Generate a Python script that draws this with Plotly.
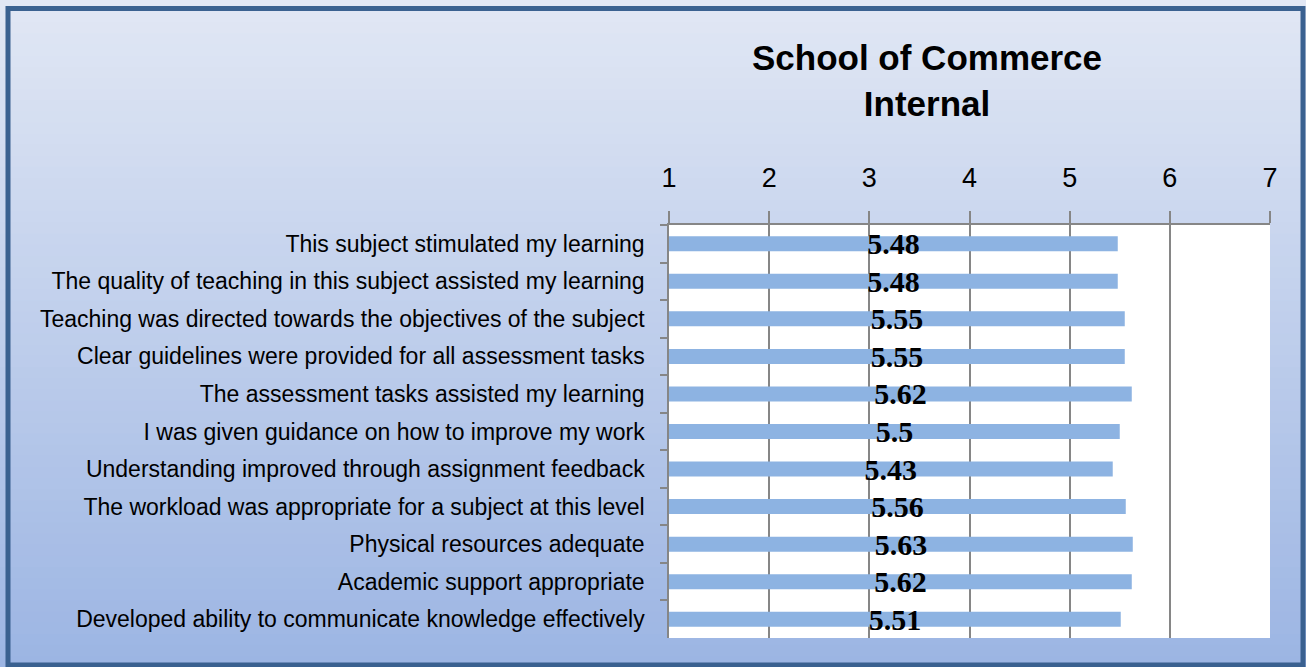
import plotly.graph_objects as go

statements = [
    "This subject stimulated my learning",
    "The quality of teaching in this subject assisted my learning",
    "Teaching was directed towards the objectives of the subject",
    "Clear guidelines were provided for all assessment tasks",
    "The assessment tasks assisted my learning",
    "I was given guidance on how to improve my work",
    "Understanding improved through assignment feedback",
    "The workload was appropriate for a subject at this level",
    "Physical resources adequate",
    "Academic support appropriate",
    "Developed ability to communicate knowledge effectively",
]
scores = [5.48, 5.48, 5.55, 5.55, 5.62, 5.5, 5.43, 5.56, 5.63, 5.62, 5.51]
scale_ticks = [1, 2, 3, 4, 5, 6, 7]

W, H = 1306, 667
L, R, T, B = 669, 36, 225, 29
PW, PH = W - L - R, H - T - B
SCALE_MIN = 1


def px_x(p):
    # figure pixel -> paper coordinate
    return (p - L) / PW


def px_y(p):
    return (H - B - p) / PH


fig = go.Figure(
    go.Bar(
        y=statements,
        x=[s - SCALE_MIN for s in scores],
        base=SCALE_MIN,
        orientation="h",
        marker=dict(color="#8db3e2", line=dict(width=0)),
        text=[f"{s:g}" for s in scores],
        textposition="inside",
        insidetextanchor="middle",
        constraintext="none",
        textfont=dict(family="Liberation Serif, Times New Roman, serif", size=30, color="black", weight="bold"),
        hoverinfo="skip",
    )
)

# vertical gradient background, drawn as thin strips over the whole figure
shapes = []
top_c, bot_c = (225, 231, 244), (156, 181, 227)
n = 60
for i in range(n):
    t = i / (n - 1)
    c = tuple(round(a + (b - a) * t) for a, b in zip(top_c, bot_c))
    shapes.append(dict(
        type="rect", xref="paper", yref="paper", layer="below",
        x0=px_x(0), x1=px_x(W), y0=px_y(H * (i + 1) / n + 1), y1=px_y(H * i / n),
        fillcolor="rgb(%d,%d,%d)" % c, line=dict(width=0),
    ))
# white plot area
shapes.append(dict(type="rect", xref="x domain", yref="y domain", layer="below",
                   x0=0, x1=1, y0=0, y1=1, fillcolor="white", line=dict(width=0)))
# outer frame
shapes.append(dict(type="rect", xref="paper", yref="paper", layer="above",
                   x0=px_x(8), x1=px_x(1303), y0=px_y(665), y1=px_y(8.5),
                   fillcolor="rgba(0,0,0,0)", line=dict(color="#3a6190", width=5)))

fig.update_layout(
    width=W, height=H,
    margin=dict(l=L, r=R, t=T, b=B, pad=0),
    paper_bgcolor="#dce4f2",
    plot_bgcolor="white",
    shapes=shapes,
    bargap=0.6,
    showlegend=False,
    title=dict(
        text="School of Commerce<br>Internal",
        x=927 / W, xanchor="center", y=1 - 70 / H, yanchor="middle",
        font=dict(family="Liberation Sans, Arial", size=35, color="black", weight="bold"),
    ),
    xaxis=dict(
        side="top", range=[1, 7], tickvals=scale_ticks,
        showgrid=True, gridcolor="#868686", gridwidth=1.5,
        showline=True, linecolor="#868686", linewidth=1.5,
        ticks="outside", ticklen=12, tickcolor="#868686", tickwidth=1.5,
        tickfont=dict(family="Liberation Sans, Arial", size=27, color="black"),
        ticklabelstandoff=13,
        zeroline=False, fixedrange=True,
    ),
    yaxis=dict(
        autorange="reversed", showgrid=False,
        showline=True, linecolor="#868686", linewidth=1.5,
        ticks="outside", tickson="boundaries", ticklen=7, tickcolor="#868686", tickwidth=1.5,
        tickfont=dict(family="Liberation Sans, Arial", size=23, color="black"),
        ticklabelstandoff=18,
        fixedrange=True,
    ),
)

fig.write_html("out.html", config={"displayModeBar": False},
               post_script="document.body.style.margin='0px';")
